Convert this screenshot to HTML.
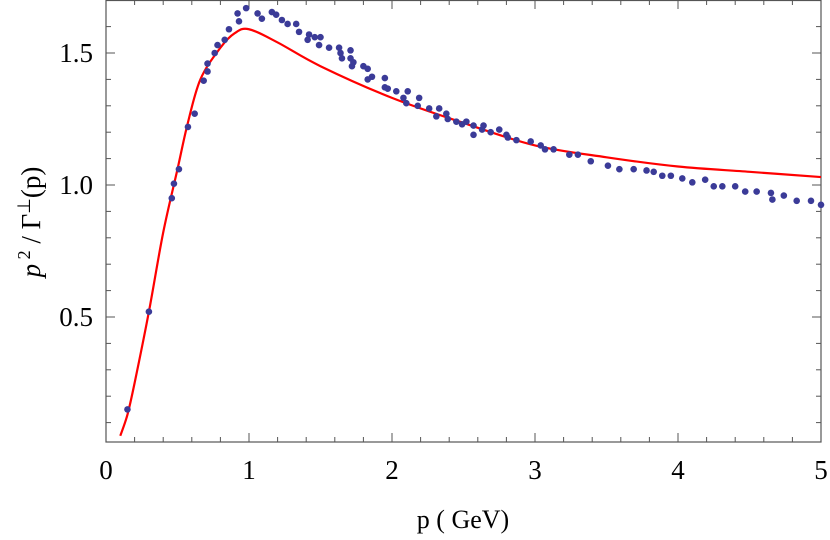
<!DOCTYPE html>
<html><head><meta charset="utf-8">
<style>
html,body{margin:0;padding:0;background:#fff;}
svg{display:block;font-family:"Liberation Serif",serif;}
</style></head>
<body>
<svg id="chart" width="830" height="540" viewBox="0 0 830 540" xmlns="http://www.w3.org/2000/svg">
<g id="frame"></g>
<g id="marks"></g>
<text x="463" y="528" font-size="26" text-anchor="middle">p ( GeV)</text>
<text transform="translate(40,222) rotate(-90)" font-size="27" text-anchor="middle"><tspan font-style="italic">p</tspan><tspan dy="-10" font-size="18"> 2</tspan><tspan dy="10"> / Γ</tspan><tspan dy="-10" font-size="18">⊥</tspan><tspan dy="10">(p)</tspan></text>
</svg>
<script>
const xTicks=[0,1,2,3,4,5];
const yTicks=[0.5,1.0,1.5];
const yTickLabels=["0.5","1.0","1.5"];
const dataX=[0.15,0.30,0.46,0.475,0.51,0.573,0.62,0.683,0.71,0.71,0.76,0.78,0.83,0.86,0.93,0.92,0.98,1.06,1.09,1.16,1.19,1.23,1.27,1.33,1.35,1.42,1.41,1.46,1.50,1.49,1.56,1.63,1.64,1.65,1.71,1.71,1.73,1.72,1.80,1.83,1.86,1.83,1.95,1.95,1.97,2.03,2.11,2.08,2.10,2.19,2.18,2.26,2.33,2.31,2.38,2.39,2.45,2.49,2.52,2.57,2.57,2.63,2.64,2.69,2.75,2.80,2.81,2.87,2.97,3.04,3.07,3.13,3.24,3.30,3.39,3.51,3.59,3.69,3.78,3.83,3.89,3.95,4.03,4.10,4.19,4.25,4.31,4.40,4.47,4.55,4.65,4.66,4.74,4.83,4.93,5.0];
const dataY=[0.15,0.52,0.95,1.005,1.06,1.22,1.27,1.395,1.43,1.46,1.50,1.53,1.55,1.59,1.62,1.65,1.67,1.65,1.63,1.655,1.645,1.625,1.61,1.61,1.58,1.57,1.55,1.56,1.56,1.53,1.52,1.52,1.50,1.48,1.51,1.48,1.465,1.45,1.45,1.44,1.41,1.40,1.405,1.37,1.365,1.355,1.355,1.33,1.31,1.33,1.30,1.29,1.29,1.26,1.27,1.25,1.24,1.23,1.24,1.225,1.19,1.21,1.225,1.20,1.21,1.19,1.18,1.17,1.165,1.15,1.135,1.135,1.115,1.115,1.09,1.073,1.06,1.06,1.055,1.05,1.035,1.035,1.025,1.01,1.02,0.995,0.995,0.995,0.975,0.975,0.97,0.945,0.96,0.94,0.94,0.925];
const fitX=[0.1,0.15,0.2,0.3,0.4,0.5,0.57,0.66,0.8,0.9,1.0,1.2,1.5,2.0,2.5,3.0,3.5,4.0,4.5,5.0];
const fitY=[0.05,0.13,0.25,0.52,0.82,1.06,1.23,1.40,1.52,1.575,1.59,1.54,1.45,1.33,1.235,1.15,1.105,1.07,1.05,1.03];

const NS="http://www.w3.org/2000/svg";
const L=106,R=821,T=0,B=442;
const sx=v=>L+(v-0)/5*(R-L);
const sy=v=>185-(v-1)*264;
const frame=document.getElementById('frame'),marks=document.getElementById('marks');
function mk(tag,attrs,parent){const e=document.createElementNS(NS,tag);for(const k in attrs)e.setAttribute(k,attrs[k]);parent.appendChild(e);return e;}

const box=mk('rect',{x:L,y:T+0.5,width:R-L,height:B-T-0.5,fill:'none',stroke:'#555','stroke-width':1.2},frame);


for(let i=0;i<=25;i++){const v=i*0.2;const x=sx(v);const major=(i%5===0);const len=major?9:5;
 mk('line',{x1:x,y1:B,x2:x,y2:B-len,stroke:'#555','stroke-width':1},frame);
 mk('line',{x1:x,y1:T,x2:x,y2:T+len,stroke:'#555','stroke-width':1},frame);}
xTicks.forEach(v=>{const t=mk('text',{x:sx(v),y:479,'font-size':27,'text-anchor':'middle'},frame);t.textContent=String(v);
 
 });
for(let i=1;i<=17;i++){const v=i*0.1;const y=sy(v);if(y>B||y<T)continue;const major=(i%5===0);const len=major?9:5;
 mk('line',{x1:L,y1:y,x2:L+len,y2:y,stroke:'#555','stroke-width':1},frame);
 mk('line',{x1:R,y1:y,x2:R-len,y2:y,stroke:'#555','stroke-width':1},frame);}
yTicks.forEach((v,i)=>{const t=mk('text',{x:93,y:sy(v)+9,'font-size':27,'text-anchor':'end'},frame);t.textContent=yTickLabels[i];
 
 });
const pts=fitX.map((x,i)=>[sx(x),sy(fitY[i])]);
let d='M'+pts[0][0]+','+pts[0][1];
for(let i=0;i<pts.length-1;i++){const p0=pts[Math.max(0,i-1)],p1=pts[i],p2=pts[i+1],p3=pts[Math.min(pts.length-1,i+2)];
 const c1=[p1[0]+(p2[0]-p0[0])/6,p1[1]+(p2[1]-p0[1])/6],c2=[p2[0]-(p3[0]-p1[0])/6,p2[1]-(p3[1]-p1[1])/6];
 d+=' C'+c1+' '+c2+' '+p2;}
const curve=mk('path',{d:d,fill:'none',stroke:'#f00','stroke-width':2.2},marks);


dataX.forEach((x,i)=>{const c=mk('circle',{cx:sx(x),cy:sy(dataY[i]),r:3.3,fill:'#3b3b98'},marks);
 
 });
</script>
</body></html>
